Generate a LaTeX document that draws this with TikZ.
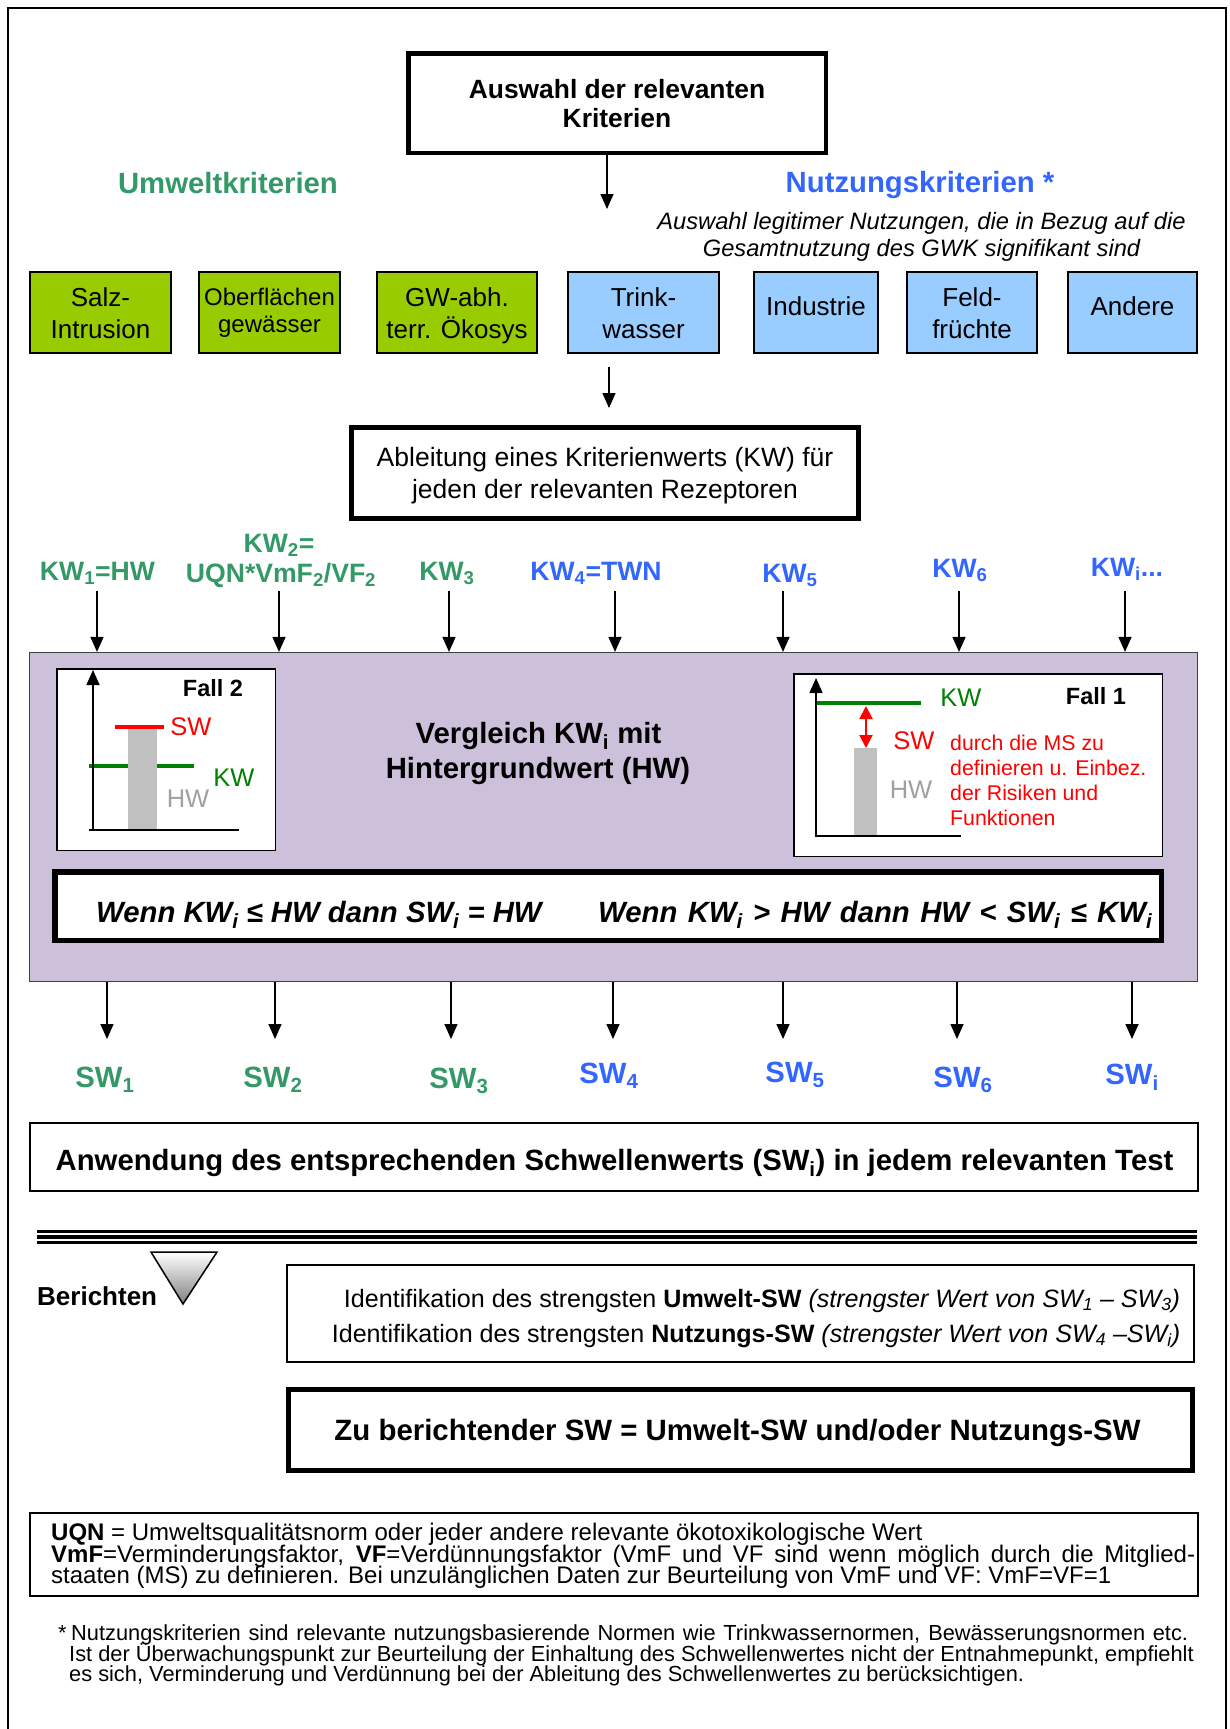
\documentclass[tikz,border=0pt]{standalone}
\usepackage{fontspec}
\setmainfont{Liberation Sans}
\usetikzlibrary{arrows.meta}

\definecolor{umgreen}{HTML}{339966}
\definecolor{nublue}{HTML}{3366FF}
\definecolor{boxgreen}{HTML}{99CC00}
\definecolor{boxblue}{HTML}{99CCFF}
\definecolor{kwgreen}{HTML}{008000}
\definecolor{hwgray}{HTML}{A0A0A0}
\definecolor{bargray}{HTML}{C0C0C0}
\definecolor{lilac}{HTML}{CCC0DA}

\newcommand\fsz[1]{\fontsize{#1}{#1}\selectfont}

\begin{document}
\begin{tikzpicture}[x=1pt,y=-1pt,
  txt/.style={inner sep=0pt, anchor=base},
  frame/.style={draw, inner sep=0pt},
  rowbox/.style={draw, line width=1.6pt, minimum height=81.4pt, inner sep=0pt},
  arr/.style={line width=1.5pt, -{Triangle[length=15pt,width=13pt]}},
  big/.style={font=\bfseries\fsz{29.3}},
  kwlab/.style={txt, font=\bfseries\fsz{26.6}},
  legtext/.style={txt, anchor=base west, font=\fsz{24}},
  notetext/.style={txt, anchor=base west, font=\fsz{21.8}}]
\useasboundingbox (0,0) rectangle (1229,1729);

% page frame
\draw[line width=2pt] (8,1740) -- (8,8) -- (1226,8) -- (1226,1740);

% ---- selection of criteria
\node[frame, line width=4.5pt, minimum width=417.5pt, minimum height=99.5pt] (auswahl) at (617,103) {};
\node[txt, font=\bfseries\fsz{26.4}] (auswahlA) at (617,98.5) {Auswahl der relevanten};
\node[txt, font=\bfseries\fsz{26.4}] (auswahlB) at (617,127.5) {Kriterien};
\coordinate (selEnd) at (607,209);
\draw[arr] (auswahl.south -| selEnd) -- (selEnd);

\node[txt, big, text=umgreen] (umwelt) at (228,193.4) {Umweltkriterien};
\node[txt, big, text=nublue] (nutzung) at (920,192.4) {Nutzungskriterien *};
\node[txt, font=\itshape\fsz{23.7}] (nutzA) at (921.5,229.5) {Auswahl legitimer Nutzungen, die in Bezug auf die};
\node[txt, font=\itshape\fsz{23.7}] (nutzB) at (921.5,256.5) {Gesamtnutzung des GWK signifikant sind};

% ---- receptors
\node[rowbox, fill=boxgreen, minimum width=141.4pt] (salz) at (100.5,312.5) {};
\node[rowbox, fill=boxgreen, minimum width=141.4pt] (ober) at (269.5,312.5) {};
\node[rowbox, fill=boxgreen, minimum width=160.4pt] (gwabh) at (457,312.5) {};
\node[rowbox, fill=boxblue, minimum width=151.4pt] (trink) at (643.5,312.5) {};
\node[rowbox, fill=boxblue, minimum width=124.4pt] (indu) at (816,312.5) {};
\node[rowbox, fill=boxblue, minimum width=130.4pt] (feld) at (972,312.5) {};
\node[rowbox, fill=boxblue, minimum width=129.4pt] (andere) at (1132.5,312.5) {};

\node[txt, font=\fsz{26}] (salzA) at (100.5,306) {Salz-};
\node[txt, font=\fsz{26}] (salzB) at (100.5,338) {Intrusion};
\node[txt, font=\fsz{24}] (oberA) at (269.5,305) {Oberflächen};
\node[txt, font=\fsz{24}] (oberB) at (269.5,332) {gewässer};
\node[txt, font=\fsz{26}] (gwabhA) at (457,306) {GW-abh.};
\node[txt, font=\fsz{26}] (gwabhB) at (457,338) {terr. Ökosys};
\node[txt, font=\fsz{26}] (trinkA) at (643.5,306) {Trink-};
\node[txt, font=\fsz{26}] (trinkB) at (643.5,338) {wasser};
\node[txt, font=\fsz{26}] (induA) at (816,315.3) {Industrie};
\node[txt, font=\fsz{26}] (feldA) at (972,306) {Feld-};
\node[txt, font=\fsz{26}] (feldB) at (972,338) {früchte};
\node[txt, font=\fsz{26}] (andereA) at (1132.5,315.3) {Andere};

% ---- criteria values
\node[frame, line width=5pt, minimum width=507pt, minimum height=91pt] (ableit) at (605,473) {};
\node[txt, font=\fsz{26.5}] (ableitA) at (605,466.5) {Ableitung eines Kriterienwerts (KW) für};
\node[txt, font=\fsz{26.5}] (ableitB) at (605,498.5) {jeden der relevanten Rezeptoren};
\draw[arr, shorten <=13pt, shorten >=17pt] ([xshift=-34.5pt]trink.south) -- ([xshift=4pt]ableit.north);

\node[kwlab, text=umgreen] (kw1) at (97.5,580) {KW\textsubscript{1}=HW};
\node[kwlab, text=umgreen] (kw2a) at (279,552) {KW\textsubscript{2}=};
\node[kwlab, text=umgreen] (kw2b) at (281,582) {UQN*VmF\textsubscript{2}/VF\textsubscript{2}};
\node[kwlab, text=umgreen] (kw3) at (447,580) {KW\textsubscript{3}};
\node[kwlab, text=nublue] (kw4) at (596,580) {KW\textsubscript{4}=TWN};
\node[kwlab, text=nublue] (kw5) at (790,582) {KW\textsubscript{5}};
\node[kwlab, text=nublue] (kw6) at (960,577) {KW\textsubscript{6}};
\node[kwlab, text=nublue] (kwi) at (1127,576) {KW\textsubscript{i}...};

% ---- comparison with background value
\node[draw=black!75, line width=1.2pt, fill=lilac, minimum width=1168pt, minimum height=329pt, inner sep=0pt] (purple) at (613.5,817) {};

\foreach \n/\x in {1/97,2/279,3/449,4/615,5/783,6/959,7/1125}{
  \coordinate (ka\n) at (\x,591);
  \draw[arr] (ka\n) -- (ka\n |- purple.north);
}

% case 2 chart
\node[frame, fill=white, line width=1.5pt, minimum width=218.5pt, minimum height=181.5pt] (fall2) at (166,759.5) {};
\draw[line width=4pt, kwgreen] (89,766) -- (194,766);
\fill[bargray] (128,727) rectangle (157,830);
\draw[line width=4pt, red] (115,727) -- (164,727);
\draw[line width=1.5pt] (89,830) -- (239,830);
\draw[arr] (93,831) -- (93,670);
\node[txt, font=\bfseries\fsz{23.5}] (fall2t) at (213,696.4) {Fall 2};
\node[txt, font=\fsz{25.5}, text=red] (sw2t) at (191,735) {SW};
\node[txt, font=\fsz{25.5}, text=kwgreen] (kw2t) at (234,786) {KW};
\node[txt, font=\fsz{25.5}, text=hwgray] (hw2t) at (188,807) {HW};

% case 1 chart
\node[frame, fill=white, line width=1.5pt, minimum width=368.5pt, minimum height=182.5pt] (fall1) at (978,765) {};
\draw[line width=4pt, kwgreen] (816,703) -- (921,703);
\fill[bargray] (854,748) rectangle (877,836);
\draw[line width=1.5pt] (816,836) -- (961,836);
\draw[arr] (816,837) -- (816,678);
\draw[red, line width=2pt, {Triangle[length=13pt,width=13pt]}-{Triangle[length=13pt,width=13pt]}] (866,706) -- (866,748);
\node[txt, font=\bfseries\fsz{23.5}] (fall1t) at (1096,704.4) {Fall 1};
\node[txt, font=\fsz{25.5}, text=kwgreen] (kw1t) at (961,706) {KW};
\node[txt, font=\fsz{25.5}, text=red] (sw1t) at (914,749) {SW};
\node[txt, font=\fsz{25.5}, text=hwgray] (hw1t) at (911,798) {HW};
\node[txt, anchor=base west, font=\fsz{21.3}, text=red] (msA) at (950,750) {durch die MS zu};
\node[txt, anchor=base west, font=\fsz{21.3}, text=red] (msB) at (950,775) {definieren u. Einbez.};
\node[txt, anchor=base west, font=\fsz{21.3}, text=red] (msC) at (950,800) {der Risiken und};
\node[txt, anchor=base west, font=\fsz{21.3}, text=red] (msD) at (950,825) {Funktionen};

\node[txt, big] (vglA) at (538.5,743.5) {Vergleich KW\textsubscript{i} mit};
\node[txt, big] (vglB) at (538,778.5) {Hintergrundwert (HW)};

% decision rule
\node[frame, fill=white, line width=5.5pt, minimum width=1106.5pt, minimum height=68.5pt] (formel) at (608,906) {};
\node[txt, anchor=base west, font=\bfseries\itshape\fsz{29.3}] (formA) at (96,922.5) {Wenn KW\textsubscript{i} ≤ HW dann SW\textsubscript{i} = HW};
\node[txt, anchor=base west, font=\bfseries\itshape\fsz{29.3}] (formB) at (598,922.5) {\makebox[554pt][s]{Wenn KW\textsubscript{i} > HW dann HW < SW\textsubscript{i} ≤ KW\textsubscript{i}}};

% ---- threshold values
\foreach \n/\x in {1/107,2/275,3/451,4/613,5/783,6/957,7/1132}{
  \coordinate (sa\n) at (\x,1039);
  \draw[arr] (sa\n |- purple.south) -- (sa\n);
}
\node[txt, big, text=umgreen] (sw1) at (105,1087) {SW\textsubscript{1}};
\node[txt, big, text=umgreen] (sw2) at (273,1087) {SW\textsubscript{2}};
\node[txt, big, text=umgreen] (sw3) at (459,1088) {SW\textsubscript{3}};
\node[txt, big, text=nublue] (sw4) at (609,1083) {SW\textsubscript{4}};
\node[txt, big, text=nublue] (sw5) at (795,1082) {SW\textsubscript{5}};
\node[txt, big, text=nublue] (sw6) at (963,1087) {SW\textsubscript{6}};
\node[txt, big, text=nublue] (swi) at (1132,1084) {SW\textsubscript{i}};

\node[frame, line width=2pt, minimum width=1168pt, minimum height=68pt] (anwend) at (614,1157) {};
\node[txt, big] (anwendA) at (614.5,1170.5) {Anwendung des entsprechenden Schwellenwerts (SW\textsubscript{i}) in jedem relevanten Test};

% ---- reporting
\foreach \y in {1231.5,1237,1242.5} \draw[line width=3.2pt] (37,\y) -- (1197,\y);
\shadedraw[top color=white, bottom color=black!50, line width=1.5pt] (151,1252) -- (217,1252) -- (183,1304) -- cycle;
\node[txt, anchor=base west, font=\bfseries\fsz{26}] (bericht) at (37,1305) {Berichten};

\node[frame, line width=2pt, minimum width=907pt, minimum height=97pt] (ident) at (740.5,1313.5) {};
\node[txt, font=\fsz{25.1}] (identA) at (762,1307) {Identifikation des strengsten \textbf{Umwelt-SW} \textit{(strengster Wert von SW\textsubscript{1} – SW\textsubscript{3})}};
\node[txt, font=\fsz{25.1}] (identB) at (756,1342) {Identifikation des strengsten \textbf{Nutzungs-SW} \textit{(strengster Wert von SW\textsubscript{4} –SW\textsubscript{i})}};

\node[frame, line width=5pt, minimum width=904pt, minimum height=81pt] (report) at (740.5,1430) {};
\node[txt, font=\bfseries\fsz{29.4}] (reportA) at (737.5,1440.5) {Zu berichtender SW = Umwelt-SW und/oder Nutzungs-SW};

% ---- abbreviations
\node[frame, line width=2pt, minimum width=1168pt, minimum height=83pt] (legend) at (614,1554.5) {};
\node[legtext] (legA) at (51,1540.5) {\textbf{UQN} = Umweltsqualitätsnorm oder jeder andere relevante ökotoxikologische Wert};
\node[legtext] (legB) at (51,1562) {\makebox[1144pt][s]{\textbf{VmF}=Verminderungsfaktor, \textbf{VF}=Verdünnungsfaktor (VmF und VF sind wenn möglich durch die Mitglied-}};
\node[legtext] (legC) at (51,1583.5) {staaten (MS) zu definieren. Bei unzulänglichen Daten zur Beurteilung von VmF und VF: VmF=VF=1};

% ---- footnote
\node[notetext] (star) at (58,1640) {*};
\node[notetext] (noteA) at (71,1640) {\makebox[1117pt][s]{Nutzungskriterien sind relevante nutzungsbasierende Normen wie Trinkwassernormen, Bewässerungsnormen etc.}};
\node[notetext] (noteB) at (69,1661) {Ist der Überwachungspunkt zur Beurteilung der Einhaltung des Schwellenwertes nicht der Entnahmepunkt, empfiehlt};
\node[notetext] (noteC) at (69,1681.5) {es sich, Verminderung und Verdünnung bei der Ableitung des Schwellenwertes zu berücksichtigen.};
\end{tikzpicture}
\end{document}
